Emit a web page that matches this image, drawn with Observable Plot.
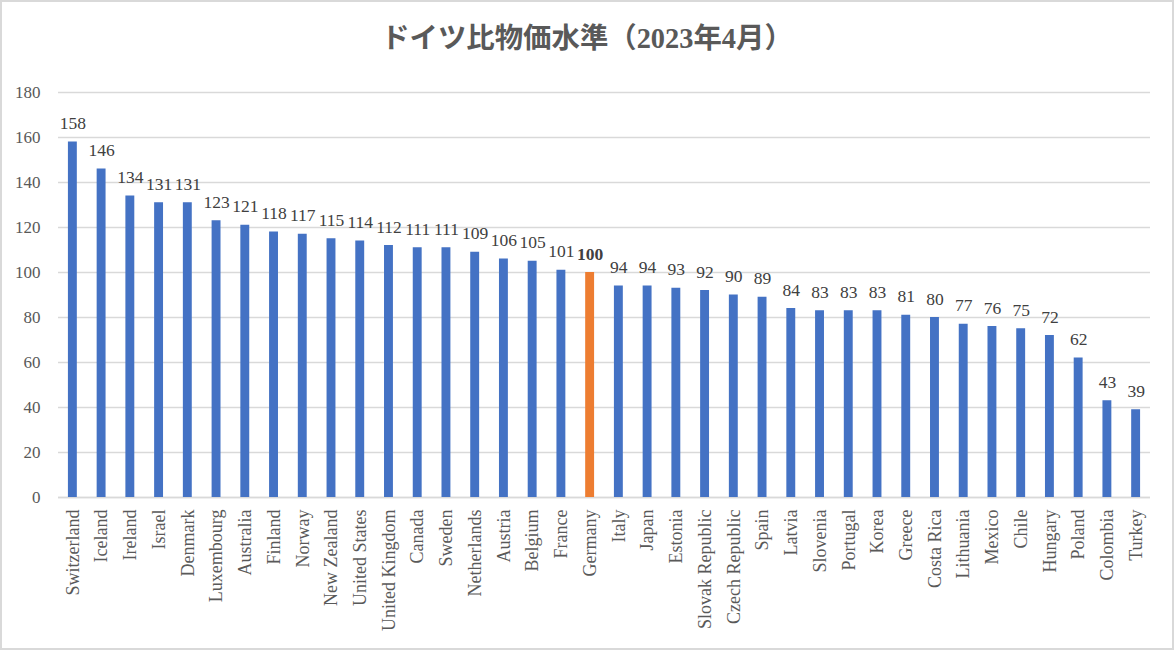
<!DOCTYPE html>
<html>
<head>
<meta charset="utf-8">
<script src="https://cdn.jsdelivr.net/npm/d3@7"></script>
<script src="https://cdn.jsdelivr.net/npm/@observablehq/plot@0.6"></script>
<style>
  html, body { margin: 0; padding: 0; background: #fff; }
  #wrap { position: relative; width: 1174px; height: 650px; overflow: hidden; }
  #title { position: absolute; left: 0; width: 1174px; top: 25px; text-align: center;
    font-family: "Liberation Serif", "Noto Sans CJK JP", serif; font-weight: bold;
    font-size: 28.4px; line-height: 28px; color: #595959; }
  #frame { position: absolute; left: 0; top: 0; width: 1174px; height: 650px;
    box-sizing: border-box; border: 2px solid #d9d9d9; pointer-events: none; }
  svg { position: absolute; left: 0; top: 0; }
</style>
</head>
<body>
<div id="wrap">
  <div id="chart"></div>
  <div id="title">ドイツ比物価水準（2023年4月）</div>
  <div id="frame"></div>
</div>
<script>
const countries = ["Switzerland","Iceland","Ireland","Israel","Denmark","Luxembourg","Australia","Finland","Norway","New Zealand","United States","United Kingdom","Canada","Sweden","Netherlands","Austria","Belgium","France","Germany","Italy","Japan","Estonia","Slovak Republic","Czech Republic","Spain","Latvia","Slovenia","Portugal","Korea","Greece","Costa Rica","Lithuania","Mexico","Chile","Hungary","Poland","Colombia","Turkey"];
const values = [158,146,134,131,131,123,121,118,117,115,114,112,111,111,109,106,105,101,100,94,94,93,92,90,89,84,83,83,83,81,80,77,76,75,72,62,43,39];
const yTicks = [0,20,40,60,80,100,120,140,160,180];
const highlight = "Germany";

const data = countries.map((c, i) => ({country: c, value: values[i]}));
const others = data.filter(d => d.country !== highlight);
const hi = data.filter(d => d.country === highlight);
const serif = "'Liberation Serif', serif";

const chart = Plot.plot({
  width: 1174,
  height: 650,
  marginTop: 92,
  marginBottom: 153,
  marginLeft: 58,
  marginRight: 24,
  style: {fontFamily: serif, fontSize: "17px", color: "#595959", background: "transparent"},
  x: {domain: countries, paddingInner: 0.69, paddingOuter: 0.345, round: false, label: null},
  y: {domain: [0, 180], label: null},
  marks: [
    Plot.gridY(yTicks, {stroke: "#d9d9d9", strokeOpacity: 1, strokeWidth: 1.3}),
    Plot.ruleY([0], {stroke: "#d9d9d9", strokeWidth: 1.5}),
    Plot.barY(data, {x: "country", y: "value", fill: d => d.country === highlight ? "#ED7D31" : "#4472C4"}),
    Plot.axisY(yTicks, {tickSize: 0, tickPadding: 18, label: null, fontSize: 17, fontFamily: serif, fill: "#595959"}),
    Plot.axisX({tickSize: 0, tickPadding: 12, tickRotate: -90, label: null, fontSize: 18, fontFamily: serif, fill: "#595959"}),
    Plot.text(others, {x: "country", y: "value", text: d => String(d.value), dy: -13, lineAnchor: "bottom", fill: "#404040", fontSize: 17.5, fontFamily: serif}),
    Plot.text(hi, {x: "country", y: "value", text: d => String(d.value), dy: -13, lineAnchor: "bottom", fill: "#404040", fontSize: 17.5, fontFamily: serif, fontWeight: "bold"})
  ]
});
document.getElementById("chart").appendChild(chart);
</script>
</body>
</html>
